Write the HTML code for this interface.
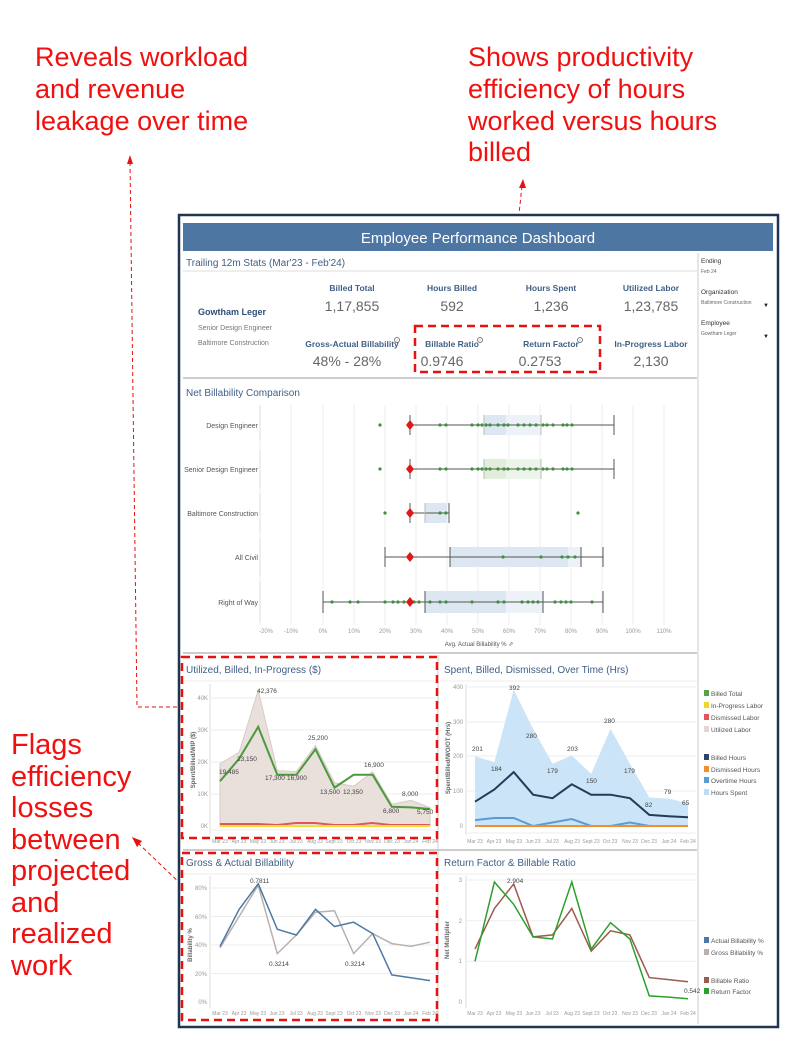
<!DOCTYPE html>
<html><head><meta charset="utf-8"><style>
html,body{margin:0;padding:0;background:#fff;}
svg{display:block;font-family:"Liberation Sans",sans-serif;}
.ann{font-family:"Liberation Sans",sans-serif;fill:#f01010;font-size:27px;}
.st{fill:#3f5f86;font-size:10px;}
.lab{fill:#3f5f86;font-size:8.5px;font-weight:bold;text-anchor:middle;}
.val{fill:#666;font-size:14px;text-anchor:middle;}
.tk{fill:#999;font-size:6px;}
.xt{fill:#999;font-size:5px;text-anchor:middle;}
.dl{fill:#444;font-size:6.5px;}
.lg{fill:#555;font-size:6.5px;}
.grid{stroke:#eee;stroke-width:1;}
.rd{fill:none;stroke:#e81010;stroke-width:2.5;stroke-dasharray:8 5;}
.rdt{fill:none;stroke:#e81010;stroke-width:1;stroke-dasharray:4 3;}
</style></head><body>
<svg width="794" height="1055" viewBox="0 0 794 1055">
<!-- annotations -->
<text class="ann" x="35" y="66">Reveals workload</text>
<text class="ann" x="35" y="98">and revenue</text>
<text class="ann" x="35" y="130">leakage over time</text>
<text class="ann" x="468" y="66">Shows productivity</text>
<text class="ann" x="468" y="98">efficiency of hours</text>
<text class="ann" x="468" y="130">worked versus hours</text>
<text class="ann" x="468" y="161">billed</text>
<g class="ann" style="font-size:29px">
<text x="11" y="754">Flags</text><text x="11" y="786">efficiency</text><text x="11" y="817">losses</text><text x="11" y="849">between</text><text x="11" y="880">projected</text><text x="11" y="912">and</text><text x="11" y="943">realized</text><text x="11" y="975">work</text>
</g>
<path class="rdt" d="M130 162 L137 707 L228 707"/>
<path d="M130 155 L127 164 L133 164Z" fill="#e81010"/>
<path class="rdt" d="M522 186 L507 326"/>
<path d="M523 179 L519 188 L526 188Z" fill="#e81010"/>
<path class="rdt" d="M138 843 L208 910"/>
<path d="M132 837 L137 847 L142 841Z" fill="#e81010"/>

<!-- dashboard frame -->
<rect x="179" y="215" width="599" height="812" fill="#fff" stroke="#1f3550" stroke-width="2.5"/>
<rect x="183" y="223" width="590" height="28" fill="#4e76a3"/>
<text x="478" y="243" fill="#fff" font-size="15" text-anchor="middle">Employee Performance Dashboard</text>
<line x1="698" y1="253" x2="698" y2="1024" stroke="#ccc"/>
<!-- filters -->
<g fill="#333" font-size="6.5"><text x="701" y="263">Ending</text><text x="701" y="294">Organization</text><text x="701" y="325">Employee</text></g>
<g fill="#666" font-size="5"><text x="701" y="273">Feb 24</text><text x="701" y="304">Baltimore Construction</text><text x="701" y="335">Gowtham Leger</text></g>
<text x="763" y="307" font-size="6" fill="#222">▼</text><text x="763" y="338" font-size="6" fill="#222">▼</text>

<!-- stats -->
<text class="st" x="186" y="266">Trailing 12m Stats (Mar'23 - Feb'24)</text>
<line x1="183" y1="271" x2="697" y2="271" stroke="#ddd"/>
<text x="198" y="315" fill="#2f4f78" font-size="9" font-weight="bold">Gowtham Leger</text>
<text x="198" y="330" fill="#777" font-size="7">Senior Design Engineer</text>
<text x="198" y="345" fill="#777" font-size="7">Baltimore Construction</text>
<text class="lab" x="352" y="291">Billed Total</text><text class="val" x="352" y="311">1,17,855</text>
<text class="lab" x="452" y="291">Hours Billed</text><text class="val" x="452" y="311">592</text>
<text class="lab" x="551" y="291">Hours Spent</text><text class="val" x="551" y="311">1,236</text>
<text class="lab" x="651" y="291">Utilized Labor</text><text class="val" x="651" y="311">1,23,785</text>
<text class="lab" x="352" y="347">Gross-Actual Billability</text><text class="val" x="347" y="366">48% - 28%</text>
<text class="lab" x="452" y="347">Billable Ratio</text><text class="val" x="442" y="366">0.9746</text>
<text class="lab" x="551" y="347">Return Factor</text><text class="val" x="540" y="366">0.2753</text>
<text class="lab" x="651" y="347">In-Progress Labor</text><text class="val" x="651" y="366">2,130</text>
<g fill="none" stroke="#555" stroke-width="0.7"><circle cx="397" cy="340" r="2.5"/><circle cx="480" cy="340" r="2.5"/><circle cx="580" cy="340" r="2.5"/></g>
<g fill="#555" font-size="3.5" text-anchor="middle"><text x="397" y="341.5">i</text><text x="480" y="341.5">i</text><text x="580" y="341.5">i</text></g>
<rect class="rd" x="415" y="326" width="185" height="46"/>
<line x1="183" y1="378" x2="697" y2="378" stroke="#ccc" stroke-width="2"/>

<!-- box plot -->
<text class="st" x="186" y="396">Net Billability Comparison</text>
<g class="grid">
<line x1="260" y1="405" x2="260" y2="625"/><line x1="291" y1="405" x2="291" y2="625"/><line x1="323" y1="405" x2="323" y2="625"/><line x1="354" y1="405" x2="354" y2="625"/><line x1="385" y1="405" x2="385" y2="625"/><line x1="416" y1="405" x2="416" y2="625"/><line x1="447" y1="405" x2="447" y2="625"/><line x1="478" y1="405" x2="478" y2="625"/><line x1="509" y1="405" x2="509" y2="625"/><line x1="540" y1="405" x2="540" y2="625"/><line x1="571" y1="405" x2="571" y2="625"/><line x1="602" y1="405" x2="602" y2="625"/><line x1="633" y1="405" x2="633" y2="625"/><line x1="664" y1="405" x2="664" y2="625"/>
</g>
<g stroke="#ddd"><line x1="260" y1="405" x2="260" y2="440"/><line x1="260" y1="450" x2="260" y2="488"/><line x1="260" y1="494" x2="260" y2="532"/><line x1="260" y1="538" x2="260" y2="576"/><line x1="260" y1="582" x2="260" y2="622"/></g>
<g fill="#555" font-size="7" text-anchor="end"><text x="258" y="428">Design Engineer</text><text x="258" y="472">Senior Design Engineer</text><text x="258" y="516">Baltimore Construction</text><text x="258" y="560">All Civil</text><text x="258" y="605">Right of Way</text></g>
<rect x="484" y="415" width="22" height="20" fill="#dde7f1"/><rect x="506" y="415" width="35" height="20" fill="#edf2f8"/>
<rect x="484" y="459" width="22" height="20" fill="#e2eedb"/><rect x="506" y="459" width="35" height="20" fill="#edf5ea"/>
<rect x="425" y="503" width="22" height="20" fill="#dde7f1"/>
<rect x="450" y="547" width="118" height="20" fill="#dde7f1"/><rect x="568" y="547" width="13" height="20" fill="#edf2f8"/>
<rect x="425" y="591" width="81" height="22" fill="#dde7f1"/><rect x="506" y="591" width="37" height="22" fill="#edf2f8"/>
<g stroke="#555" stroke-width="1">
<line x1="410" y1="425" x2="614" y2="425"/><line x1="410" y1="415" x2="410" y2="435"/><line x1="614" y1="415" x2="614" y2="435"/><line x1="484" y1="415" x2="484" y2="435" stroke="#bbb"/><line x1="541" y1="415" x2="541" y2="435" stroke="#bbb"/>
<line x1="410" y1="469" x2="614" y2="469"/><line x1="410" y1="459" x2="410" y2="479"/><line x1="614" y1="459" x2="614" y2="479"/><line x1="484" y1="459" x2="484" y2="479" stroke="#bbb"/><line x1="541" y1="459" x2="541" y2="479" stroke="#bbb"/>
<line x1="410" y1="513" x2="449" y2="513"/><line x1="410" y1="503" x2="410" y2="523"/><line x1="449" y1="503" x2="449" y2="523"/><line x1="425" y1="503" x2="425" y2="523" stroke="#bbb"/>
<line x1="385" y1="557" x2="603" y2="557"/><line x1="385" y1="547" x2="385" y2="567"/><line x1="603" y1="547" x2="603" y2="567"/><line x1="450" y1="547" x2="450" y2="567"/><line x1="581" y1="547" x2="581" y2="567"/>
<line x1="323" y1="602" x2="603" y2="602"/><line x1="323" y1="591" x2="323" y2="613"/><line x1="603" y1="591" x2="603" y2="613"/><line x1="425" y1="591" x2="425" y2="613"/><line x1="543" y1="591" x2="543" y2="613"/>
</g>
<g fill="#3f8f3f">
<circle cx="380" cy="425" r="1.6"/><circle cx="440" cy="425" r="1.6"/><circle cx="446" cy="425" r="1.6"/><circle cx="472" cy="425" r="1.6"/><circle cx="478" cy="425" r="1.6"/><circle cx="482" cy="425" r="1.6"/><circle cx="486" cy="425" r="1.6"/><circle cx="490" cy="425" r="1.6"/><circle cx="498" cy="425" r="1.6"/><circle cx="504" cy="425" r="1.6"/><circle cx="508" cy="425" r="1.6"/><circle cx="518" cy="425" r="1.6"/><circle cx="524" cy="425" r="1.6"/><circle cx="530" cy="425" r="1.6"/><circle cx="536" cy="425" r="1.6"/><circle cx="543" cy="425" r="1.6"/><circle cx="547" cy="425" r="1.6"/><circle cx="553" cy="425" r="1.6"/><circle cx="563" cy="425" r="1.6"/><circle cx="567" cy="425" r="1.6"/><circle cx="572" cy="425" r="1.6"/>
<circle cx="380" cy="469" r="1.6"/><circle cx="440" cy="469" r="1.6"/><circle cx="446" cy="469" r="1.6"/><circle cx="472" cy="469" r="1.6"/><circle cx="478" cy="469" r="1.6"/><circle cx="482" cy="469" r="1.6"/><circle cx="486" cy="469" r="1.6"/><circle cx="490" cy="469" r="1.6"/><circle cx="498" cy="469" r="1.6"/><circle cx="504" cy="469" r="1.6"/><circle cx="508" cy="469" r="1.6"/><circle cx="518" cy="469" r="1.6"/><circle cx="524" cy="469" r="1.6"/><circle cx="530" cy="469" r="1.6"/><circle cx="536" cy="469" r="1.6"/><circle cx="543" cy="469" r="1.6"/><circle cx="547" cy="469" r="1.6"/><circle cx="553" cy="469" r="1.6"/><circle cx="563" cy="469" r="1.6"/><circle cx="567" cy="469" r="1.6"/><circle cx="572" cy="469" r="1.6"/>
<circle cx="385" cy="513" r="1.6"/><circle cx="440" cy="513" r="1.6"/><circle cx="446" cy="513" r="1.6"/><circle cx="578" cy="513" r="1.6"/>
<circle cx="503" cy="557" r="1.6"/><circle cx="541" cy="557" r="1.6"/><circle cx="562" cy="557" r="1.6"/><circle cx="568" cy="557" r="1.6"/><circle cx="575" cy="557" r="1.6"/>
<circle cx="332" cy="602" r="1.6"/><circle cx="350" cy="602" r="1.6"/><circle cx="358" cy="602" r="1.6"/><circle cx="385" cy="602" r="1.6"/><circle cx="393" cy="602" r="1.6"/><circle cx="398" cy="602" r="1.6"/><circle cx="404" cy="602" r="1.6"/><circle cx="414" cy="602" r="1.6"/><circle cx="419" cy="602" r="1.6"/><circle cx="430" cy="602" r="1.6"/><circle cx="440" cy="602" r="1.6"/><circle cx="446" cy="602" r="1.6"/><circle cx="472" cy="602" r="1.6"/><circle cx="498" cy="602" r="1.6"/><circle cx="504" cy="602" r="1.6"/><circle cx="522" cy="602" r="1.6"/><circle cx="528" cy="602" r="1.6"/><circle cx="533" cy="602" r="1.6"/><circle cx="538" cy="602" r="1.6"/><circle cx="555" cy="602" r="1.6"/><circle cx="561" cy="602" r="1.6"/><circle cx="566" cy="602" r="1.6"/><circle cx="571" cy="602" r="1.6"/><circle cx="592" cy="602" r="1.6"/>
</g>
<g fill="#e01818"><path d="M410 420l4 5-4 5-4-5z"/><path d="M410 464l4 5-4 5-4-5z"/><path d="M410 508l4 5-4 5-4-5z"/><path d="M410 552l4 5-4 5-4-5z"/><path d="M410 597l4 5-4 5-4-5z"/></g>
<g class="tk" text-anchor="middle"><text x="266" y="633">-20%</text><text x="291" y="633">-10%</text><text x="323" y="633">0%</text><text x="354" y="633">10%</text><text x="385" y="633">20%</text><text x="416" y="633">30%</text><text x="447" y="633">40%</text><text x="478" y="633">50%</text><text x="509" y="633">60%</text><text x="540" y="633">70%</text><text x="571" y="633">80%</text><text x="602" y="633">90%</text><text x="633" y="633">100%</text><text x="664" y="633">110%</text></g>
<text x="479" y="646" fill="#555" font-size="6" text-anchor="middle">Avg. Actual Billability % ⇗</text>
<line x1="183" y1="653" x2="697" y2="653" stroke="#ccc" stroke-width="2"/>
<line x1="438" y1="655" x2="438" y2="1024" stroke="#ccc"/>
<line x1="183" y1="850" x2="697" y2="850" stroke="#ccc" stroke-width="2"/>

<!-- top-left chart -->
<text class="st" x="186" y="673">Utilized, Billed, In-Progress ($)</text>
<line x1="183" y1="681" x2="437" y2="681" stroke="#eee"/>
<line x1="210" y1="684" x2="210" y2="835" stroke="#ddd"/>
<g class="grid"><line x1="210" y1="698" x2="436" y2="698"/><line x1="210" y1="730" x2="436" y2="730"/><line x1="210" y1="762" x2="436" y2="762"/><line x1="210" y1="794" x2="436" y2="794"/><line x1="210" y1="830" x2="436" y2="830"/></g>
<g class="tk" text-anchor="end"><text x="208" y="700">40K</text><text x="208" y="732">30K</text><text x="208" y="764">20K</text><text x="208" y="796">10K</text><text x="208" y="828">0K</text></g>
<text transform="translate(195,760) rotate(-90)" class="tk" text-anchor="middle" style="font-weight:bold;fill:#666">Spent/Billed/WIP ($)</text>
<polygon points="220,763.6 239.1,752.4 258.2,690.3 277.3,770.6 296.4,771.6 315.5,745.4 334.5,782.8 353.6,786.3 372.7,771.9 391.8,804.2 410.9,800.4 430,807.6 430,826 220,826" fill="#e9dfdb" stroke="#d8cbc6"/>
<polyline points="220,824 239,824 258,824 277,825 296,823 315,823 334,825 353,825 372,823 391,825 410,825 430,825" fill="none" stroke="#e15759" stroke-width="2"/>
<polyline points="220,826 430,826" fill="none" stroke="#ede32e" stroke-width="2"/>
<polyline points="220,781.2 239.1,758.8 258.2,726.8 277.3,774.8 296.4,774.8 315.5,749.2 334.5,787.6 353.6,774.8 372.7,774.8 391.8,806.8 410.9,807.4 430,809" fill="none" stroke="#4c9a3c" stroke-width="2"/>
<g class="dl"><text x="219" y="774">19,485</text><text x="237" y="761">23,150</text><text x="257" y="693">42,376</text><text x="265" y="780">17,300</text><text x="287" y="780">16,900</text><text x="308" y="740">25,200</text><text x="320" y="794">13,500</text><text x="343" y="794">12,350</text><text x="364" y="767">16,900</text><text x="383" y="813">6,800</text><text x="402" y="796">8,000</text><text x="417" y="814">5,750</text></g>
<g class="xt"><text x="220" y="843">Mar 23</text><text x="239" y="843">Apr 23</text><text x="258" y="843">May 23</text><text x="277" y="843">Jun 23</text><text x="296" y="843">Jul 23</text><text x="315" y="843">Aug 23</text><text x="334" y="843">Sept 23</text><text x="354" y="843">Oct 23</text><text x="373" y="843">Nov 23</text><text x="392" y="843">Dec 23</text><text x="411" y="843">Jan 24</text><text x="430" y="843">Feb 24</text></g>

<!-- top-right chart -->
<text class="st" x="444" y="673">Spent, Billed, Dismissed, Over Time (Hrs)</text>
<line x1="440" y1="681" x2="697" y2="681" stroke="#eee"/>
<line x1="466" y1="684" x2="466" y2="835" stroke="#ddd"/>
<g class="grid"><line x1="466" y1="687" x2="696" y2="687"/><line x1="466" y1="722" x2="696" y2="722"/><line x1="466" y1="756" x2="696" y2="756"/><line x1="466" y1="791" x2="696" y2="791"/><line x1="466" y1="833" x2="696" y2="833"/></g>
<g class="tk" text-anchor="end"><text x="463" y="689">400</text><text x="463" y="724">300</text><text x="463" y="758">200</text><text x="463" y="793">100</text><text x="463" y="828">0</text></g>
<text transform="translate(450,758) rotate(-90)" class="tk" text-anchor="middle" style="font-weight:bold;fill:#666">Spent/Billed/WO/OT (Hrs)</text>
<polygon points="475,756.2 494.4,762.1 513.7,689.8 533.1,728.7 552.5,763.8 571.8,755.5 591.2,773.9 610.5,728.7 629.9,763.8 649.3,797.5 668.6,798.5 688,803.4 688,826 475,826" fill="#cbe4f7"/>
<polyline points="475,820.1 494.4,818 513.7,818 533.1,826 552.5,822.5 571.8,819 591.2,826 610.5,826 629.9,822.5 649.3,826 668.6,826 688,826" fill="none" stroke="#5b9bd5" stroke-width="2"/>
<polyline points="475,826 688,826" fill="none" stroke="#f28e2b" stroke-width="2"/>
<polyline points="475,801.7 494.4,789.5 513.7,772.1 533.1,794.7 552.5,798.2 571.8,784.3 591.2,794.7 610.5,794.7 629.9,798.2 649.3,814.9 668.6,816.3 688,817.3" fill="none" stroke="#253a57" stroke-width="2"/>
<g class="dl"><text x="472" y="751">201</text><text x="491" y="771">184</text><text x="509" y="690">392</text><text x="526" y="738">280</text><text x="547" y="773">179</text><text x="567" y="751">203</text><text x="586" y="783">150</text><text x="604" y="723">280</text><text x="624" y="773">179</text><text x="645" y="807">82</text><text x="664" y="794">79</text><text x="682" y="805">65</text></g>
<g class="xt"><text x="475" y="843">Mar 23</text><text x="494" y="843">Apr 23</text><text x="514" y="843">May 23</text><text x="533" y="843">Jun 23</text><text x="552" y="843">Jul 23</text><text x="572" y="843">Aug 23</text><text x="591" y="843">Sept 23</text><text x="610" y="843">Oct 23</text><text x="630" y="843">Nov 23</text><text x="649" y="843">Dec 23</text><text x="669" y="843">Jan 24</text><text x="688" y="843">Feb 24</text></g>

<!-- legends -->
<g class="lg">
<rect x="704" y="690" width="5" height="6" fill="#59a14f"/><text x="711" y="696">Billed Total</text>
<rect x="704" y="702" width="5" height="6" fill="#edd82a"/><text x="711" y="708">In-Progress Labor</text>
<rect x="704" y="714" width="5" height="6" fill="#e15759"/><text x="711" y="720">Dismissed Labor</text>
<rect x="704" y="726" width="5" height="6" fill="#e3d6d2"/><text x="711" y="732">Utilized Labor</text>
<rect x="704" y="754" width="5" height="6" fill="#2f4566"/><text x="711" y="760">Billed Hours</text>
<rect x="704" y="766" width="5" height="6" fill="#f28e2b"/><text x="711" y="772">Dismissed Hours</text>
<rect x="704" y="777" width="5" height="6" fill="#5b9bd5"/><text x="711" y="783">Overtime Hours</text>
<rect x="704" y="789" width="5" height="6" fill="#bddcf5"/><text x="711" y="795">Hours Spent</text>
<rect x="704" y="937" width="5" height="6" fill="#4e79a7"/><text x="711" y="943">Actual Billability %</text>
<rect x="704" y="949" width="5" height="6" fill="#bab0ac"/><text x="711" y="955">Gross Billability %</text>
<rect x="704" y="977" width="5" height="6" fill="#9c5b4f"/><text x="711" y="983">Billable Ratio</text>
<rect x="704" y="988" width="5" height="6" fill="#2ca02c"/><text x="711" y="994">Return Factor</text>
</g>

<!-- bottom-left -->
<text class="st" x="186" y="866">Gross &amp; Actual Billability</text>
<line x1="183" y1="874" x2="437" y2="874" stroke="#eee"/>
<line x1="210" y1="876" x2="210" y2="1008" stroke="#ddd"/>
<g class="grid"><line x1="210" y1="888" x2="436" y2="888"/><line x1="210" y1="916.5" x2="436" y2="916.5"/><line x1="210" y1="945" x2="436" y2="945"/><line x1="210" y1="973.5" x2="436" y2="973.5"/></g>
<g class="tk" text-anchor="end"><text x="207" y="890">80%</text><text x="207" y="919">60%</text><text x="207" y="947">40%</text><text x="207" y="976">20%</text><text x="207" y="1004">0%</text></g>
<text transform="translate(192,945) rotate(-90)" class="tk" text-anchor="middle" style="font-weight:bold;fill:#666">Billability %</text>
<polyline points="220,947.9 239.1,916.5 258.2,885.2 277.3,953.6 296.4,935 315.5,912.2 334.5,910.8 353.6,953.6 372.7,933.6 391.8,943.6 410.9,946.4 430,942.2" fill="none" stroke="#bab0ac" stroke-width="1.5"/>
<polyline points="220,946.4 239.1,909.4 258.2,883.7 277.3,929.3 296.4,935 315.5,909.4 334.5,926.5 353.6,922.2 372.7,933.6 391.8,974.9 410.9,977.8 430,980.6" fill="none" stroke="#4e79a7" stroke-width="1.5"/>
<g class="dl"><text x="250" y="883">0.7811</text><text x="269" y="966">0.3214</text><text x="345" y="966">0.3214</text></g>
<g class="xt"><text x="220" y="1015">Mar 23</text><text x="239" y="1015">Apr 23</text><text x="258" y="1015">May 23</text><text x="277" y="1015">Jun 23</text><text x="296" y="1015">Jul 23</text><text x="315" y="1015">Aug 23</text><text x="334" y="1015">Sept 23</text><text x="354" y="1015">Oct 23</text><text x="373" y="1015">Nov 23</text><text x="392" y="1015">Dec 23</text><text x="411" y="1015">Jan 24</text><text x="430" y="1015">Feb 24</text></g>

<!-- bottom-right -->
<text class="st" x="444" y="866">Return Factor &amp; Billable Ratio</text>
<line x1="440" y1="874" x2="697" y2="874" stroke="#eee"/>
<line x1="466" y1="876" x2="466" y2="1008" stroke="#ddd"/>
<g class="grid"><line x1="466" y1="880" x2="696" y2="880"/><line x1="466" y1="920.7" x2="696" y2="920.7"/><line x1="466" y1="961.3" x2="696" y2="961.3"/></g>
<g class="tk" text-anchor="end"><text x="462" y="882">3</text><text x="462" y="923">2</text><text x="462" y="963">1</text><text x="462" y="1004">0</text></g>
<text transform="translate(449,940) rotate(-90)" class="tk" text-anchor="middle" style="font-weight:bold;fill:#666">Net Multiplier</text>
<polyline points="475,949.1 494.4,908.5 513.7,884 533.1,936.9 552.5,934.9 571.8,908.5 591.2,951.2 610.5,930.8 629.9,934.9 649.3,977.6 668.6,979.6 688,981.7" fill="none" stroke="#9c5b4f" stroke-width="1.5"/>
<polyline points="475,961.3 494.4,882 513.7,904.4 533.1,936.9 552.5,939 571.8,882 591.2,949.1 610.5,922.7 629.9,939 649.3,995.9 668.6,997.1 688,998.7" fill="none" stroke="#2ca02c" stroke-width="1.5"/>
<g class="dl"><text x="507" y="883">2.904</text><text x="684" y="993">0.542</text></g>
<g class="xt"><text x="475" y="1015">Mar 23</text><text x="494" y="1015">Apr 23</text><text x="514" y="1015">May 23</text><text x="533" y="1015">Jun 23</text><text x="552" y="1015">Jul 23</text><text x="572" y="1015">Aug 23</text><text x="591" y="1015">Sept 23</text><text x="610" y="1015">Oct 23</text><text x="630" y="1015">Nov 23</text><text x="649" y="1015">Dec 23</text><text x="669" y="1015">Jan 24</text><text x="688" y="1015">Feb 24</text></g>

<!-- red dashed boxes -->
<rect class="rd" x="182" y="657" width="255" height="181"/>
<rect class="rd" x="182" y="853" width="255" height="167"/>
</svg>
</body></html>
